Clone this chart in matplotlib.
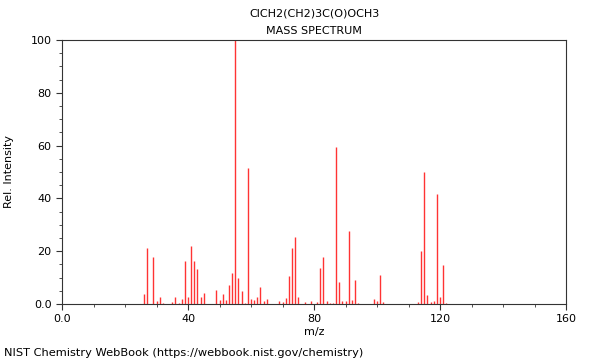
import numpy as np
import matplotlib
matplotlib.use('Agg')
import matplotlib.pyplot as plt
from matplotlib.ticker import MultipleLocator

mz = [26, 27, 29, 30, 31, 32, 35, 36, 37, 38, 39, 40, 41, 42, 43, 44, 45,
      49, 50, 51, 52, 53, 54, 55, 56, 57, 58, 59, 60, 61, 62, 63, 64, 65,
      69, 70, 71, 72, 73, 74, 75, 77, 79, 81, 82, 83, 84, 85, 86, 87, 88,
      89, 90, 91, 92, 93, 94, 99, 100, 101, 102, 113, 114, 115, 116, 117,
      118, 119, 120, 121, 122]
intensidad = [3.7, 21.1, 17.7, 1.0, 2.5, 0.3, 0.7, 2.8, 0.5, 1.9, 16.3, 2.5, 21.8, 16.1, 13.3, 2.5, 4.0,
              5.2, 1.5, 3.9, 1.5, 7.2, 11.6, 100.0, 9.8, 4.9, 0.5, 51.4, 2.0, 1.5, 2.6, 6.3, 1.0, 2.0,
              1.0, 0.6, 2.2, 10.6, 21.2, 25.4, 2.5, 0.7, 1.2, 0.6, 13.6, 17.9, 1.0, 0.4, 0.4, 59.5, 8.2,
              1.0, 1.2, 27.5, 1.5, 9.2, 0.4, 2.0, 1.3, 11.0, 0.6, 0.7, 20.1, 49.9, 3.4, 0.6,
              1.0, 41.7, 2.8, 14.9, 0.5]

titulo = 'ClCH2(CH2)3C(O)OCH3\nMASS SPECTRUM'

fig = plt.figure(figsize=(6, 3.6), dpi=100)
ax = fig.add_axes([62/600, 56/360, 504/600, 264/360])

ax.vlines(mz, 0, intensidad, colors='#ff3333', linewidth=1.0)

ax.set_xlim(0, 160)
ax.set_ylim(0, 100)
ax.xaxis.set_major_locator(MultipleLocator(40))
ax.xaxis.set_minor_locator(MultipleLocator(10))
ax.yaxis.set_major_locator(MultipleLocator(20))
ax.yaxis.set_minor_locator(MultipleLocator(5))
ax.set_xticklabels(['0.0' if t == 0 else '%d' % t for t in ax.get_xticks()])
ax.set_yticklabels(['0.0' if t == 0 else '%d' % t for t in ax.get_yticks()])
ax.tick_params(which='major', direction='out', length=4, labelsize=8, color='#333333')
ax.tick_params(which='minor', direction='out', length=2, color='#333333')
for s in ax.spines.values():
    s.set_color('#333333')
    s.set_linewidth(0.8)

ax.set_xlabel('m/z', fontsize=8, labelpad=2)
ax.set_ylabel('Rel. Intensity', fontsize=8, labelpad=12)
ax.set_title(titulo, fontsize=8, linespacing=1.95, pad=4)

fig.text(4/600, 1 - 353/360, 'NIST Chemistry WebBook (https://webbook.nist.gov/chemistry)',
         fontsize=8.2, va='center', ha='left')

fig.savefig('out.png', dpi=100)
